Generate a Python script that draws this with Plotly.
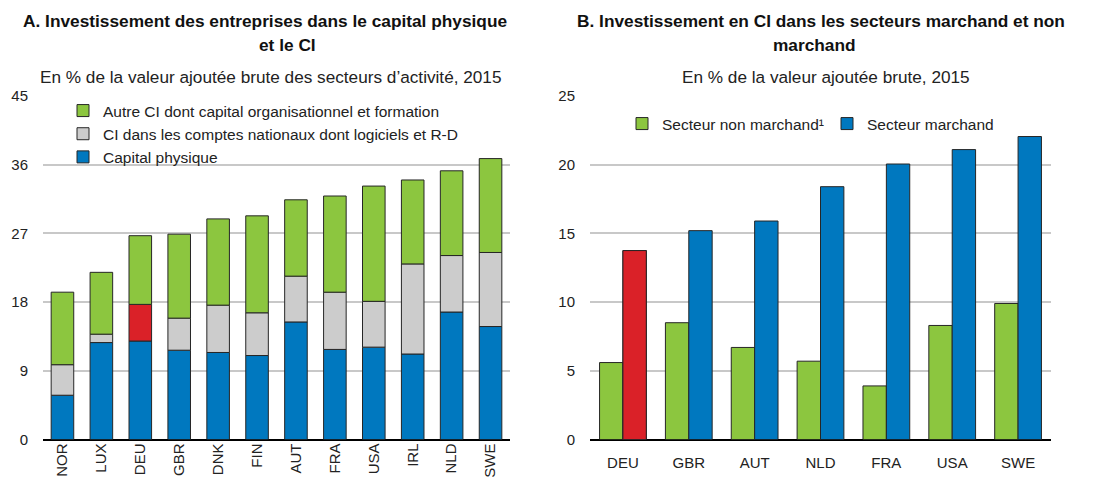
import plotly.graph_objects as go

# ---------------- data ----------------
countries_a = ["NOR", "LUX", "DEU", "GBR", "DNK", "FIN", "AUT", "FRA", "USA", "IRL", "NLD", "SWE"]
capital_physique = [5.8, 12.7, 12.9, 11.7, 11.4, 11.0, 15.4, 11.8, 12.1, 11.2, 16.7, 14.8]
ci_comptes_nat = [4.0, 1.1, 4.8, 4.2, 6.2, 5.6, 6.0, 7.5, 6.0, 11.8, 7.4, 9.7]
ci_autre = [9.5, 8.1, 9.0, 11.0, 11.3, 12.7, 10.0, 12.6, 15.1, 11.0, 11.1, 12.3]

countries_b = ["DEU", "GBR", "AUT", "NLD", "FRA", "USA", "SWE"]
non_marchand = [5.6, 8.5, 6.7, 5.7, 3.9, 8.3, 9.9]
marchand = [13.75, 15.2, 15.9, 18.4, 20.05, 21.1, 22.05]

highlight = "DEU"

# ---------------- styles ----------------
OFF = 8            # default page margin of the html body
W, H = 1102 - OFF, 477 - OFF
GREEN = "#8CC63F"
GREY = "#CCCCCC"
BLUE = "#0078BF"
RED = "#DA2128"
EDGE = "#262626"
FONT = "Liberation Sans, Arial, sans-serif"

def px_x(p):
    return (p - OFF) / W

def px_y(p):
    return 1 - (p - OFF) / H

base_nat = capital_physique
base_autre = [a + b for a, b in zip(capital_physique, ci_comptes_nat)]
grey_colors = [RED if c == highlight else GREY for c in countries_a]

fig = go.Figure()
line = dict(color=EDGE, width=1)
fig.add_trace(go.Bar(x=countries_a, y=capital_physique, name="Capital physique",
                     marker=dict(color=BLUE, line=line), offsetgroup="a", width=0.58,
                     xaxis="x", yaxis="y", legend="legend"))
fig.add_trace(go.Bar(x=countries_a, y=ci_comptes_nat, base=base_nat,
                     name="CI dans les comptes nationaux dont logiciels et R-D",
                     marker=dict(color=grey_colors, line=line), offsetgroup="a", width=0.58,
                     xaxis="x", yaxis="y", legend="legend"))
fig.add_trace(go.Bar(x=countries_a, y=ci_autre, base=base_autre,
                     name="Autre CI dont capital organisationnel et formation",
                     marker=dict(color=GREEN, line=line), offsetgroup="a", width=0.58,
                     xaxis="x", yaxis="y", legend="legend"))

fig.add_trace(go.Bar(x=countries_b, y=non_marchand, name="Secteur non marchand\u00b9",
                     marker=dict(color=GREEN, line=line), offsetgroup="n",
                     xaxis="x2", yaxis="y2", legend="legend2"))
fig.add_trace(go.Bar(x=countries_b, y=marchand, name="Secteur marchand",
                     marker=dict(color=BLUE, line=line), offsetgroup="m",
                     xaxis="x2", yaxis="y2", legend="legend2"))
hi_idx = countries_b.index(highlight)
fig.add_trace(go.Bar(x=[countries_b[hi_idx]], y=[marchand[hi_idx]], showlegend=False,
                     marker=dict(color=RED, line=line), offsetgroup="m",
                     xaxis="x2", yaxis="y2"))

TICK = dict(family=FONT, size=15, color="#222")
ydom = [px_y(439.5), px_y(96)]
axis_common = dict(showgrid=True, gridcolor="#C8C8C8", gridwidth=1.5,
                   zeroline=True, zerolinecolor="black", zerolinewidth=2,
                   showline=False, ticks="", automargin=False, tickfont=TICK)
xcommon = dict(showgrid=False, zeroline=False, showline=False, ticks="", automargin=False,
               type="category", tickfont=TICK)

LEG = dict(family=FONT, size=15.5, color="#222")
fig.update_layout(
    width=W, height=H,
    margin=dict(l=0, r=0, t=0, b=0),
    paper_bgcolor="white", plot_bgcolor="white",
    barmode="group", bargap=0.29, bargroupgap=0,
    font=dict(family=FONT, size=15, color="#222"),
    xaxis=dict(domain=[px_x(43), px_x(510)], range=[-0.5, 11.5], tickangle=-90,
               anchor="y", **xcommon),
    yaxis=dict(domain=ydom, range=[0, 45], dtick=9, tick0=0, anchor="x",
               ticklabelstandoff=14, **axis_common),
    xaxis2=dict(domain=[px_x(590), px_x(1051)], range=[-0.5, 6.5], tickangle=0,
                anchor="y2", ticklabelstandoff=12, **xcommon),
    yaxis2=dict(domain=ydom, range=[0, 25], dtick=5, tick0=0, anchor="x2",
                ticklabelstandoff=14, **axis_common),
    legend=dict(x=px_x(63), y=px_y(94), xanchor="left", yanchor="top",
                orientation="v", traceorder="reversed", bgcolor="rgba(0,0,0,0)",
                font=LEG, itemclick=False),
    legend2=dict(x=px_x(622), y=px_y(107), xanchor="left", yanchor="top",
                 orientation="h", bgcolor="rgba(0,0,0,0)", entrywidth=160,
                 entrywidthmode="pixels", font=LEG, itemclick=False),
)

title_font = dict(family=FONT, size=17.3, color="#111")
sub_font = dict(family=FONT, size=17.2, color="#222")
ann = [
    ("<b>A. Investissement des entreprises dans le capital physique</b>", 265, 21, title_font),
    ("<b>et le CI</b>", 287, 45, title_font),
    ("En % de la valeur ajoutée brute des secteurs d\u2019activité, 2015", 270, 77, sub_font),
    ("<b>B. Investissement en CI dans les secteurs marchand et non</b>", 821, 21, title_font),
    ("<b>marchand</b>", 814, 45, title_font),
    ("En % de la valeur ajoutée brute, 2015", 826, 77, sub_font),
]
for text, cx, cy, f in ann:
    fig.add_annotation(text=text, x=px_x(cx), y=px_y(cy), xref="paper", yref="paper",
                       xanchor="center", yanchor="middle", showarrow=False, font=f)

fig.write_html("out.html")
